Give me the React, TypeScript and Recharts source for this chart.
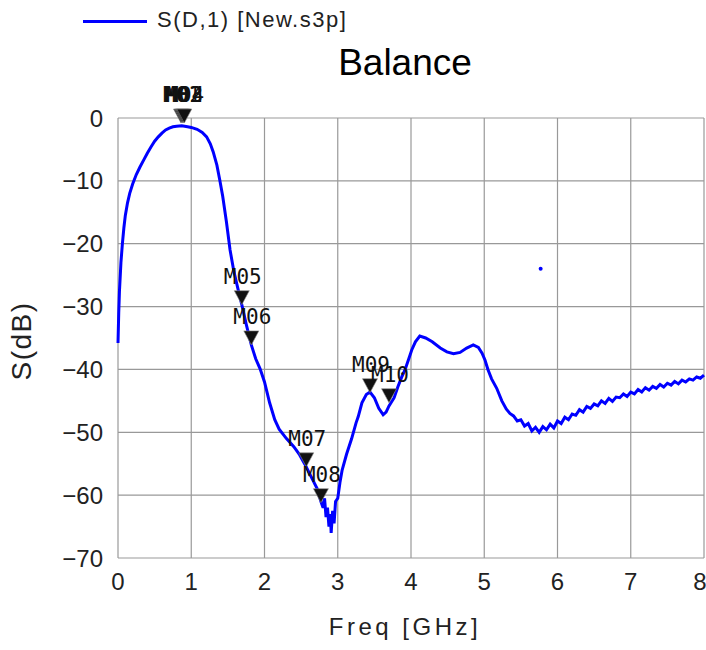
import React from "react";
import {
  CartesianGrid,
  ComposedChart,
  Line,
  Scatter,
  XAxis,
  YAxis
} from "recharts";

// S(D,1) trace: [freq GHz, dB]
const curvePoints: Array<[number, number]> = [
  [0, -35.8], [0.01, -31], [0.02, -27.5], [0.04, -23], [0.06, -20], [0.08, -17.5],
  [0.1, -15.5], [0.13, -13.5], [0.16, -12], [0.2, -10.5], [0.25, -9], [0.3, -7.8],
  [0.35, -6.7], [0.4, -5.6], [0.45, -4.6], [0.5, -3.7], [0.55, -3.0], [0.6, -2.4],
  [0.65, -1.9], [0.7, -1.6], [0.75, -1.4], [0.8, -1.3], [0.87, -1.25], [0.95, -1.4],
  [1.0, -1.5], [1.08, -1.8], [1.15, -2.3], [1.21, -3.0], [1.26, -4.1], [1.3, -5.4],
  [1.35, -7.5], [1.39, -9.9], [1.43, -12.5], [1.48, -16.5], [1.53, -21], [1.58, -24.3],
  [1.64, -27.3], [1.69, -29.7], [1.75, -32.8], [1.82, -36.1], [1.88, -38.3], [1.94, -39.9],
  [2.0, -42], [2.07, -45.3], [2.14, -48], [2.2, -49.5], [2.3, -51], [2.4, -52.3],
  [2.48, -53.6], [2.57, -55.5], [2.66, -57.6], [2.72, -59], [2.77, -61], [2.8, -62],
  [2.82, -60.5], [2.84, -63.5], [2.86, -62], [2.88, -65], [2.9, -63], [2.91, -66],
  [2.93, -62.5], [2.95, -64.5], [2.97, -61], [3.0, -60.5], [3.03, -58], [3.06, -56],
  [3.12, -53.5], [3.19, -51], [3.25, -48.5], [3.28, -47.5], [3.33, -45.3], [3.39, -44],
  [3.44, -43.6], [3.5, -44.5], [3.56, -46.2], [3.62, -47.2], [3.66, -46.8], [3.7, -45.8],
  [3.77, -44.5], [3.82, -42.8], [3.87, -41.3], [3.92, -40], [3.97, -38.3], [4.01, -36.9],
  [4.06, -35.6], [4.12, -34.7], [4.2, -35], [4.29, -35.6], [4.4, -36.6], [4.49, -37.2],
  [4.58, -37.5], [4.67, -37.3], [4.76, -36.6], [4.85, -36.1], [4.92, -36.5], [4.97, -37.4],
  [5.01, -38.5], [5.05, -40], [5.1, -41.5], [5.17, -43], [5.24, -45], [5.3, -46.3],
  [5.35, -47], [5.4, -47.4], [5.45, -48.2], [5.5, -48], [5.55, -49], [5.6, -48.6],
  [5.65, -49.8], [5.7, -49.2], [5.75, -50], [5.8, -49.1], [5.85, -49.6], [5.9, -48.7],
  [5.95, -49.3], [6.0, -48.2], [6.05, -48.6], [6.1, -47.6], [6.15, -48], [6.2, -47.1],
  [6.25, -47.3], [6.3, -46.4], [6.35, -46.8], [6.4, -45.9], [6.45, -46.2], [6.5, -45.5],
  [6.55, -45.8], [6.6, -45], [6.65, -45.4], [6.7, -44.6], [6.75, -45.1], [6.8, -44.4],
  [6.85, -44.5], [6.9, -43.9], [6.95, -44.3], [7.0, -43.6], [7.05, -43.9], [7.1, -43.2],
  [7.15, -43.6], [7.2, -42.9], [7.25, -43.3], [7.3, -42.7], [7.35, -43], [7.4, -42.4],
  [7.45, -42.8], [7.5, -42.2], [7.55, -42.5], [7.6, -41.9], [7.65, -42.3], [7.7, -41.7],
  [7.75, -42], [7.8, -41.5], [7.85, -41.7], [7.9, -41.2], [7.95, -41.4], [8.0, -40.9]
];

const markerNames = ["M01", "M02", "M03", "M04", "M05", "M06", "M07", "M08", "M09", "M10"];
const markerFreqs = [0.86, 0.875, 0.89, 0.905, 1.69, 1.82, 2.57, 2.77, 3.44, 3.7];
const markerValues = [-0.8, -0.8, -0.8, -0.8, -29.7, -36.1, -55.5, -61.2, -43.7, -45.3];

// stray point near 5.8 GHz
const strayPoints: Array<[number, number]> = [[5.77, -24]];

const xTicks = [0, 1, 2, 3, 4, 5, 6, 7, 8];
const yTicks = [0, -10, -20, -30, -40, -50, -60, -70];

const curve = curvePoints.map(([f, db]) => ({ f, db }));
const markers = markerNames.map((name, i) => ({ name, f: markerFreqs[i], db: markerValues[i] }));
const stray = strayPoints.map(([f, db]) => ({ f, db }));

const sans = "'Liberation Sans', Arial, sans-serif";
const tickStyle = { fill: "#222", fontSize: 24, fontFamily: sans };
const fmt = (v: number) => String(v).replace("-", "\u2212");

function MarkerShape(props: any) {
  const { cx, cy, payload } = props;
  if (cx == null || cy == null) return null;
  return (
    <g>
      <polygon
        points={`${cx - 7.5},${cy - 14} ${cx + 7.5},${cy - 14} ${cx},${cy}`}
        fill="#111"
        stroke="#888"
        strokeWidth={0.6}
      />
      <text
        x={cx + 1}
        y={cy - 21}
        textAnchor="middle"
        fontFamily="'DejaVu Sans Mono', monospace"
        fontSize={21}
        fill="#111"
      >
        {payload.name}
      </text>
    </g>
  );
}

function StrayDot(props: any) {
  const { cx, cy } = props;
  if (cx == null || cy == null) return null;
  return <circle cx={cx} cy={cy} r={2} fill="#0000ff" />;
}

export default function App() {
  return (
    <div style={{ position: "absolute", left: 0, top: 0, width: 706, height: 650, background: "#fff" }}>
      <ComposedChart
        width={706}
        height={650}
        margin={{ top: 118, right: 2, bottom: 62, left: 58 }}
        style={{ overflow: "visible" }}
      >
        <CartesianGrid stroke="#999" strokeWidth={1.2} />
        <XAxis
          type="number"
          dataKey="f"
          domain={[0, 8]}
          ticks={xTicks}
          height={30}
          tick={tickStyle}
          tickSize={0}
          tickMargin={15}
          axisLine={false}
          tickLine={false}
        />
        <YAxis
          type="number"
          dataKey="db"
          domain={[-70, 0]}
          ticks={yTicks}
          width={60}
          tick={tickStyle}
          tickSize={0}
          tickMargin={15}
          axisLine={false}
          tickLine={false}
          tickFormatter={fmt}
        />
        <Line
          data={curve}
          dataKey="db"
          type="linear"
          stroke="#0000ff"
          strokeWidth={3}
          dot={false}
          isAnimationActive={false}
        />
        <Scatter data={stray} dataKey="db" shape={StrayDot} isAnimationActive={false} />
        <Scatter data={markers} dataKey="db" shape={MarkerShape} isAnimationActive={false} />
      </ComposedChart>

      {/* legend */}
      <div style={{ position: "absolute", left: 83, top: 20, width: 64, height: 3, background: "#0000ff" }} />
      <div
        style={{
          position: "absolute",
          left: 157,
          top: 7,
          fontFamily: sans,
          fontSize: 22,
          letterSpacing: 1.5,
          color: "#222",
          whiteSpace: "nowrap"
        }}
      >
        S(D,1) [New.s3p]
      </div>

      {/* title */}
      <div
        style={{
          position: "absolute",
          left: 255,
          width: 300,
          top: 42,
          textAlign: "center",
          fontFamily: sans,
          fontSize: 37,
          color: "#000"
        }}
      >
        Balance
      </div>

      {/* y axis title */}
      <div
        style={{
          position: "absolute",
          left: 22,
          top: 341,
          transform: "translate(-50%, -50%) rotate(-90deg)",
          fontFamily: sans,
          fontSize: 28,
          letterSpacing: 1.5,
          color: "#222",
          whiteSpace: "nowrap"
        }}
      >
        S(dB)
      </div>

      {/* x axis title */}
      <div
        style={{
          position: "absolute",
          left: 255,
          width: 300,
          top: 613,
          textAlign: "center",
          fontFamily: sans,
          fontSize: 24,
          letterSpacing: 3.5,
          color: "#222",
          whiteSpace: "nowrap"
        }}
      >
        Freq [GHz]
      </div>
    </div>
  );
}
